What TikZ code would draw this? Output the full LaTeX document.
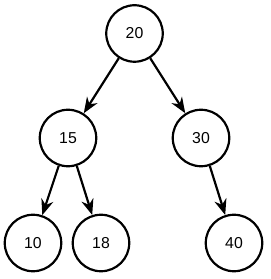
\documentclass[tikz,border=0pt]{standalone}
\usepackage{fontspec}
\setmainfont{Liberation Sans}
\usetikzlibrary{arrows.meta}

\begin{document}
\begin{tikzpicture}[x=0.02cm,y=-0.02cm,>={Stealth[length=9pt,width=7pt]}]
  \tikzset{key/.style={circle,draw,line width=1.25pt,minimum size=1.13cm,inner sep=0pt,font=\fontsize{9}{11}\selectfont}}
  \useasboundingbox (0,0) rectangle (270,279);
  \node[key] (n20) at (134.5,33.5) {20};
  \node[key] (n15) at (68,138) {15};
  \node[key] (n30) at (201,138) {30};
  \node[key] (n10) at (33,243) {10};
  \node[key] (n18) at (101,243) {18};
  \node[key] (n40) at (234,243) {40};
  \foreach \a/\b in {n20/n15,n20/n30,n15/n10,n15/n18,n30/n40}
    \draw[line width=1.25pt,->] (\a)--(\b);
\end{tikzpicture}
\end{document}
